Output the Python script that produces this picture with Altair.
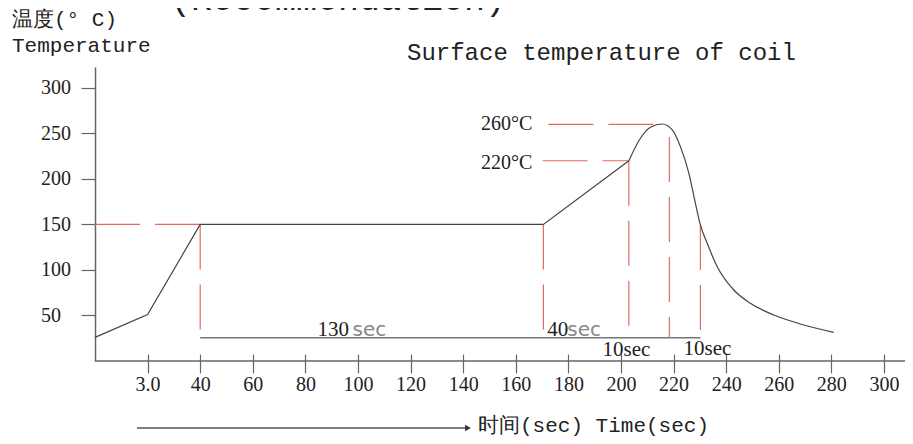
import altair as alt
import pandas as pd

# ---- data ----
ramp_time = [0, 20, 40, 170.5, 203]
ramp_temp = [26, 51, 150, 150, 220]

reflow_time = [203, 207.4, 211.2, 215.7, 219.5, 222.6, 225.8, 228.3, 230.2,
               232.8, 236.6, 242.9, 249.2, 258.1, 268.2, 280.9]
reflow_temp = [220, 244.7, 256.8, 260.4, 253.8, 235.5, 206.3, 173.3, 149.5,
               129.3, 103.6, 78, 63.4, 50.5, 40.7, 31.5]

guide_x1 = [0, 170.2, 172.4, 40, 170.5, 203, 218.4, 230.2]
guide_y1 = [150, 220, 260, 150, 150, 220, 246, 149.5]
guide_x2 = [40, 203, 215.7, 40, 170.5, 203, 218.4, 230.2]
guide_y2 = [150, 220, 260, 25.6, 25.6, 25.6, 25.6, 25.6]

base_start = [40]
base_end = [230.2]
base_level = [25.6]

x_ticks = list(range(20, 301, 20))
y_ticks = [50, 100, 150, 200, 250, 300]

RED = "#e06a6a"
AX = "#666666"
SERIF = "Liberation Serif"
MONO = "Liberation Mono"

ramp = pd.DataFrame({"t": ramp_time, "T": ramp_temp})
reflow = pd.DataFrame({"t": reflow_time, "T": reflow_temp})
guides = pd.DataFrame({"x1": guide_x1, "y1": guide_y1, "x2": guide_x2, "y2": guide_y2})
base = pd.DataFrame({"a": base_start, "b": base_end, "y": base_level})

xs = alt.Scale(domain=[0, 308], nice=False, zero=False)
ys = alt.Scale(domain=[0, 323], nice=False, zero=False)

x_axis = alt.Axis(values=x_ticks, format="d",
                  labelExpr="datum.value == 20 ? '3.0' : datum.label",
                  domain=False, offset=-7, tickSize=19, tickColor=AX, tickWidth=1.2,
                  labelFont=SERIF, labelFontSize=20, labelColor="#222", labelPadding=1,
                  title=None, grid=False)
y_axis = alt.Axis(values=y_ticks, tickSize=14, tickColor=AX, tickWidth=1.2,
                  domainColor=AX, domainWidth=1.5,
                  labelAlign="left", labelBaseline="middle", labelPadding=40.5,
                  labelFont=SERIF, labelFontSize=20, labelColor="#222",
                  title=None, grid=False)

line1 = alt.Chart(ramp).mark_line(color="#444", strokeWidth=1.2).encode(
    x=alt.X("t:Q", scale=xs, axis=x_axis),
    y=alt.Y("T:Q", scale=ys, axis=y_axis),
)
line2 = alt.Chart(reflow).mark_line(color="#444", strokeWidth=1.2, interpolate="monotone").encode(
    x=alt.X("t:Q", scale=xs), y=alt.Y("T:Q", scale=ys)
)
guide_rules = alt.Chart(guides).mark_rule(color=RED, strokeWidth=1.2, strokeDash=[45, 15]).encode(
    x="x1:Q", y="y1:Q", x2="x2:Q", y2="y2:Q"
)
base_rule = alt.Chart(base).mark_rule(color="#777", strokeWidth=1.5).encode(
    x="a:Q", x2="b:Q", y="y:Q"
)
x_line = alt.Chart(pd.DataFrame({"a": [0]})).mark_rule(color=AX, strokeWidth=1.5).encode(
    x=alt.datum(0), x2=alt.datum(308), y=alt.datum(0)
)


def txt(s, x, y, size, font=SERIF, color="#222", align="left", baseline="middle", pixel=False):
    df = pd.DataFrame({"s": [s]})
    if pixel:
        enc = dict(x=alt.value(x), y=alt.value(y), text="s:N")
    else:
        enc = dict(x=alt.datum(x), y=alt.datum(y), text="s:N")
    return alt.Chart(df).mark_text(font=font, fontSize=size, color=color,
                                   align=align, baseline=baseline).encode(**enc)


texts = [
    txt("(Recommendation)", 75, -57, 35, font=MONO, baseline="alphabetic", pixel=True),
    txt("温度(° C)", -83, -41, 21, font=MONO, baseline="alphabetic", pixel=True),
    txt("Temperature", -83, -15, 21, font=MONO, baseline="alphabetic", pixel=True),
    txt("Surface temperature of coil", 312, -7, 24, font=MONO, baseline="alphabetic", pixel=True),
    txt("260°C", 166.3, 260, 20, align="right"),
    txt("220°C", 166.3, 218, 20, align="right"),
    txt("130", 84.6, 27, 21, baseline="alphabetic"),
    txt("sec", 97.9, 27, 20, font="DejaVu Sans", color="#888", baseline="alphabetic"),
    txt("40", 172, 27, 21, baseline="alphabetic"),
    txt("sec", 179.6, 27, 20, font="DejaVu Sans", color="#888", baseline="alphabetic"),
    txt("10sec", 193, 12, 21),
    txt("10sec", 223.8, 13, 21),
    txt("时间(sec) Time(sec)", 383, 359, 21, font=MONO, pixel=True),
]

arrow_line = alt.Chart(pd.DataFrame({"a": [0]})).mark_rule(color="#555", strokeWidth=1.5).encode(
    x=alt.value(42), x2=alt.value(372), y=alt.value(361)
)
arrow_head = alt.Chart(pd.DataFrame({"a": [0]})).mark_point(
    shape="triangle-right", filled=True, color="#333", size=45, opacity=1).encode(
    x=alt.value(373), y=alt.value(361)
)

chart = alt.layer(x_line, base_rule, guide_rules, line1, line2, arrow_line, arrow_head, *texts).properties(
    width=810, height=294,
    autosize=alt.AutoSizeParams(type="none"),
    padding={"left": 87, "top": 59, "right": 0, "bottom": 78},
    background="white",
).configure_view(stroke=None)

chart.save("out.html", embed_options={"renderer": "svg", "actions": False})
